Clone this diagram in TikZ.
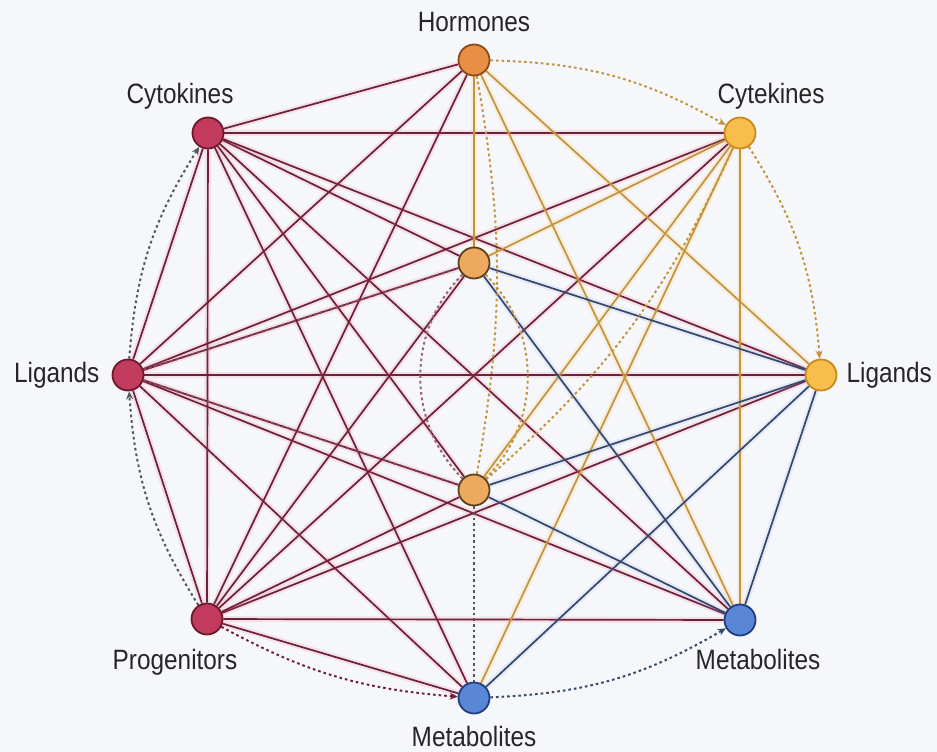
\documentclass[tikz,border=0pt]{standalone}
\usepackage{fontspec}
\setmainfont{Liberation Sans}[FakeStretch=0.87]
\usetikzlibrary{positioning,arrows.meta,backgrounds}

\definecolor{bgcol}{HTML}{F6F7FA}
\definecolor{crimfill}{HTML}{C23B5E}
\definecolor{crimdraw}{HTML}{6B1A2E}
\definecolor{hormfill}{HTML}{E98F45}
\definecolor{hormdraw}{HTML}{8A4A1A}
\definecolor{midfill}{HTML}{EDAA5E}
\definecolor{middraw}{HTML}{5E4220}
\definecolor{goldfill}{HTML}{F8BE4C}
\definecolor{golddraw}{HTML}{C88A20}
\definecolor{bluefill}{HTML}{5A86D6}
\definecolor{bluedraw}{HTML}{1F3E80}
\definecolor{crimline}{HTML}{6E2038}
\definecolor{crimglow}{HTML}{E0607F}
\definecolor{goldline}{HTML}{C4933E}
\definecolor{goldglow}{HTML}{F5C060}
\definecolor{blueline}{HTML}{364869}
\definecolor{blueglow}{HTML}{7FA0E0}
\definecolor{dotgray}{HTML}{55555F}

\begin{document}
\begin{tikzpicture}[x=1pt,y=-1pt,
    dot/.style={circle, draw, line width=1.8pt, minimum size=31pt, inner sep=0pt},
    lbl/.style={font=\fontsize{28}{30}\selectfont, text=black!85, inner sep=0pt},
    redline/.style={draw=crimline, line width=1.7pt, preaction={draw=crimglow, line width=6pt, opacity=0.14}},
    goldline/.style={draw=goldline, line width=1.7pt, preaction={draw=goldglow, line width=6pt, opacity=0.18}},
    blueline/.style={draw=blueline, line width=1.7pt, preaction={draw=blueglow, line width=6pt, opacity=0.14}},
    dotline/.style={draw=#1, line width=2pt, dash pattern=on 2.6pt off 3pt},
    dotarrow/.style={dotline=#1, -{Stealth[length=8pt, width=7pt]}}
]
    % Nodes
    \node[dot, fill=hormfill, draw=hormdraw] (H) at (474,60) {};
    \node[dot, fill=crimfill, draw=crimdraw] (CL) at (208,133) {};
    \node[dot, fill=goldfill, draw=golddraw] (CR) at (740,133) {};
    \node[dot, fill=midfill, draw=middraw] (CT) at (474,263) {};
    \node[dot, fill=crimfill, draw=crimdraw] (LL) at (128,375) {};
    \node[dot, fill=goldfill, draw=golddraw] (LR) at (821,375) {};
    \node[dot, fill=midfill, draw=middraw] (CB) at (474,490) {};
    \node[dot, fill=crimfill, draw=crimdraw] (P) at (207,619) {};
    \node[dot, fill=bluefill, draw=bluedraw] (MR) at (740,620) {};
    \node[dot, fill=bluefill, draw=bluedraw] (MB) at (474,698) {};

    % Labels
    \node[lbl, above=12pt of H] (Hlab) {Hormones};
    \node[lbl, above=7pt of CL, xshift=-28pt] (CLlab) {Cytokines};
    \node[lbl, above=7pt of CR, xshift=31pt] (CRlab) {Cytekines};
    \node[lbl, left=12pt of LL] (LLlab) {Ligands};
    \node[lbl, right=9pt of LR] (LRlab) {Ligands};
    \node[lbl, below=14pt of P, xshift=-32pt] (Plab) {Progenitors};
    \node[lbl, below=13pt of MR, xshift=18pt] (MRlab) {Metabolites};
    \node[lbl, below=12pt of MB] (MBlab) {Metabolites};

    \begin{scope}[on background layer]
    \fill[bgcol] (0,0) rectangle (937,752);

    % Links
    \foreach \b in {H,CR,CT,LR,CB,MR,MB,P,LL}
        \draw[redline] (CL) -- (\b);
    \foreach \b in {H,CR,CT,LR,CB,MR,MB,P}
        \draw[redline] (LL) -- (\b);
    \foreach \b in {H,CR,CT,LR,CB,MR,MB}
        \draw[redline] (P) -- (\b);
    \foreach \b in {CT,LR,MR}
        \draw[goldline] (H) -- (\b);
    \foreach \b in {CT,CB,MB,MR}
        \draw[goldline] (CR) -- (\b);
    \foreach \b in {CT,CB,MB,MR}
        \draw[blueline] (LR) -- (\b);
    \foreach \b in {CT,CB}
        \draw[blueline] (MR) -- (\b);

    % Inner dotted links
    \draw[dotline=crimline!80] (LL) -- (CT);
    \draw[dotline=crimline!80] (LL) -- (CB);
    \draw[dotline=goldline] (H) to[bend left=10] (CB);
    \draw[dotline=goldline] (CR) to[bend left=12] (CB);
    \draw[dotline=dotgray] (CB) -- (MB);
    \draw[dotline=crimline!70] (CT) to[bend right=45] (CB);
    \draw[dotline=goldline] (CT) to[bend left=45] (CB);

    % Outer arrows
    \draw[dotarrow=goldline] (H) to[bend left=14] (CR);
    \draw[dotarrow=goldline] (CR) to[bend left=14] (LR);
    \draw[dotarrow=blueline] (MB) to[bend right=14] (MR);
    \draw[dotarrow=crimline] (P) to[bend right=12] (MB);
    \draw[dotarrow=dotgray] (P) to[bend left=14] (LL);
    \draw[dotarrow=dotgray] (LL) to[bend left=14] (CL);
    \end{scope}
\end{tikzpicture}
\end{document}
